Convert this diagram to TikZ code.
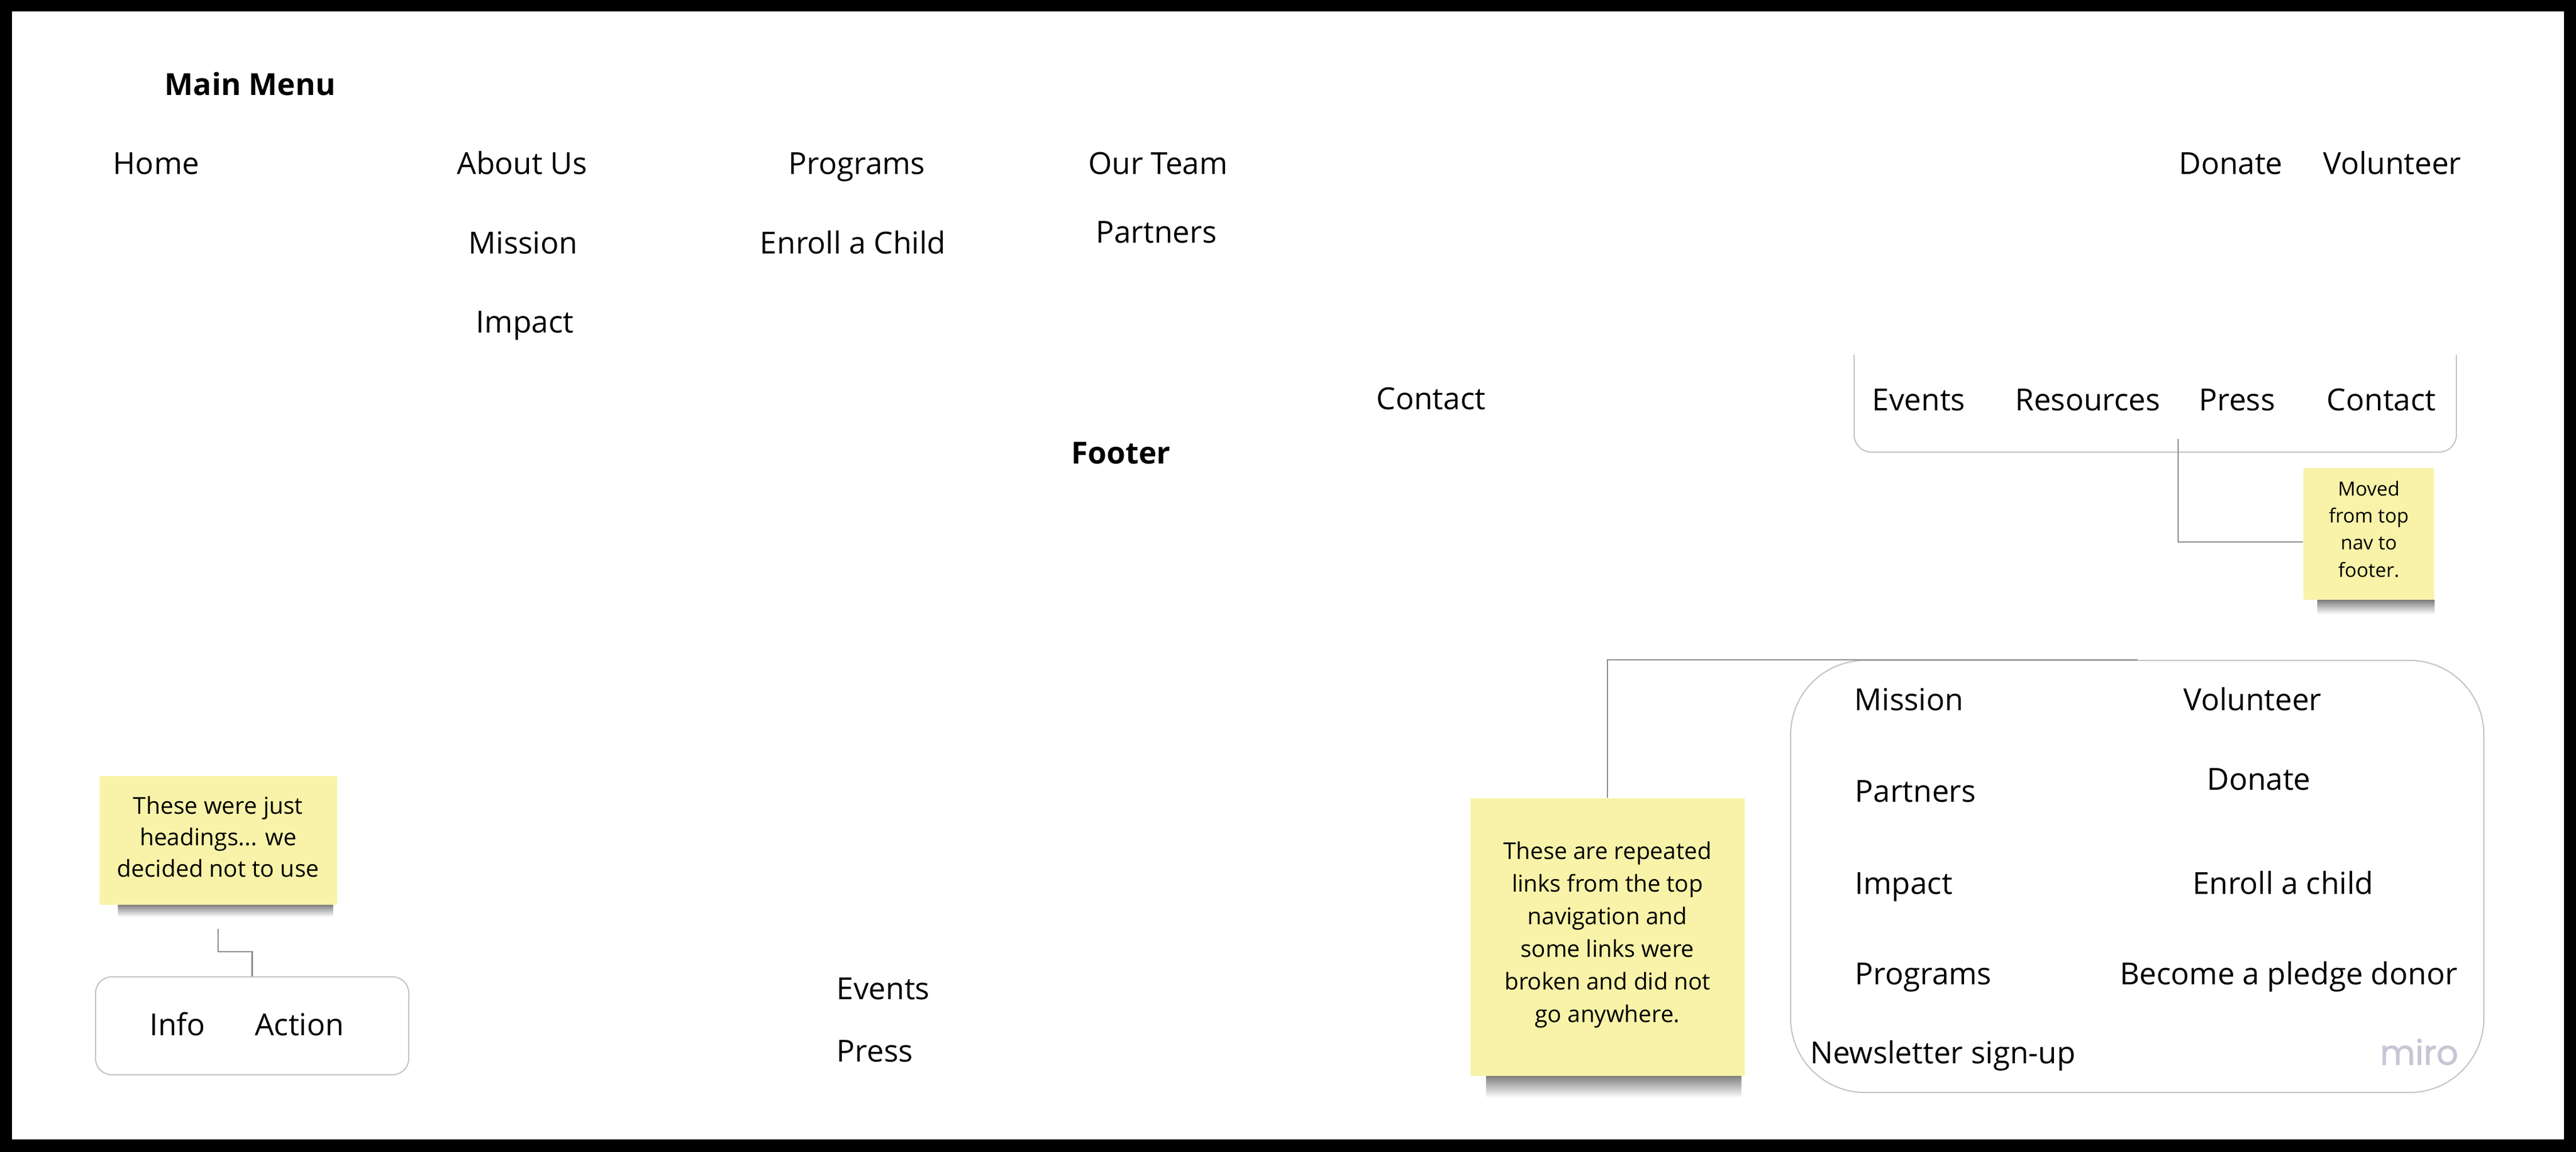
\documentclass[tikz,border=0pt]{standalone}
\usepackage{fontspec}
\setmainfont{Open Sans}
\newfontfamily\mirofont{Poppins}[FakeBold=1.2]
\definecolor{notecolor}{RGB}{248,243,168}
\definecolor{linkgray}{RGB}{140,140,140}
\definecolor{boxgray}{RGB}{196,196,196}
\definecolor{mirogray}{RGB}{198,198,214}
\begin{document}
\begin{tikzpicture}[
    item/.style={inner sep=0pt, text height=1.85ex, text depth=0pt, font=\fontsize{15.1}{18}\selectfont},
    heading/.style={item, font=\fontsize{15.1}{18}\selectfont\bfseries},
    sticky/.style={fill=notecolor, align=center, inner sep=0pt},
    noteshadow/.style={top color=black!50, bottom color=white},
    groupbox/.style={draw=boxgray, line width=0.6pt},
    link/.style={draw=linkgray, line width=0.6pt}]
  \useasboundingbox (0,0) rectangle (45,-20.13);
  \fill[black] (0,0) rectangle (45,-20.13);
  \fill[white] (0.21,-0.20) rectangle (44.79,-19.91);

  \node[heading] (mainmenu) at (4.37,-1.49) {Main Menu};
  \node[item] (home) at (2.73,-2.87) {Home};
  \node[item] (aboutus) at (9.12,-2.87) {About Us};
  \node[item] (programs) at (14.97,-2.87) {Programs};
  \node[item] (ourteam) at (20.23,-2.87) {Our Team};
  \node[item] (donate) at (38.97,-2.87) {Donate};
  \node[item] (volunteer) at (41.79,-2.87) {Volunteer};
  \node[item] (mission) at (9.14,-4.26) {Mission};
  \node[item] (enroll) at (14.90,-4.26) {Enroll a Child};
  \node[item] (partners) at (20.20,-4.07) {Partners};
  \node[item] (impact) at (9.17,-5.64) {Impact};
  \node[item] (contact) at (25.00,-6.98) {Contact};
  \node[heading] (footer) at (19.58,-7.93) {Footer};

  \draw[groupbox, rounded corners=0.3cm] (32.39,-6.20) -- (32.39,-7.90) -- (42.91,-7.90) -- (42.91,-6.20);
  \node[item] (events) at (33.52,-7.00) {Events};
  \node[item] (resources) at (36.47,-7.00) {Resources};
  \node[item] (press) at (39.08,-7.00) {Press};
  \node[item] (contactb) at (41.60,-7.00) {Contact};
  \coordinate (pressanchor) at (38.05,-7.67);

  \node[sticky, minimum width=2.28cm, minimum height=2.30cm, font=\fontsize{9.7}{13.5}\selectfont] (movednote) at (41.38,-9.33) {Moved\\from top\\nav to\\footer.\\[-0.30cm]};
  \shade[noteshadow] ([xshift=0.25cm]movednote.south west) rectangle ([yshift=-0.25cm]movednote.south east);
  \draw[link] (pressanchor) |- ([yshift=-0.14cm]movednote.west);

  \node[groupbox, minimum width=12.11cm, minimum height=7.55cm, rounded corners=1.3cm] (linkbox) at (37.335,-15.315) {};
  \node[item, anchor=west] (mission2) at (32.39,-12.24) {Mission};
  \node[item] (volunteer2) at (39.35,-12.24) {Volunteer};
  \node[item, anchor=west] (partners2) at (32.40,-13.84) {Partners};
  \node[item] (donate2) at (39.46,-13.63) {Donate};
  \node[item, anchor=west] (impact2) at (32.40,-15.45) {Impact};
  \node[item] (enroll2) at (39.88,-15.45) {Enroll a child};
  \node[item, anchor=west] (programs2) at (32.40,-17.03) {Programs};
  \node[item] (pledge) at (39.98,-17.03) {Become a pledge donor};
  \node[item] (newsletter) at (33.94,-18.41) {Newsletter sign-up};
  \node[inner sep=0pt, text=mirogray, font=\mirofont\fontsize{17}{20}\selectfont] (miro) at (42.26,-18.38) {miro};

  \node[sticky, minimum width=4.79cm, minimum height=4.85cm, font=\fontsize{11.5}{16.2}\selectfont] (repeatnote) at (28.08,-16.37) {These are repeated\\links from the top\\navigation and\\some links were\\broken and did not\\go anywhere.\\[-0.40cm]};
  \shade[noteshadow] ([xshift=0.28cm]repeatnote.south west) rectangle ([yshift=-0.38cm,xshift=-0.06cm]repeatnote.south east);
  \draw[link] (repeatnote.north) |- (linkbox.north);

  \node[item, anchor=west] (events2) at (14.61,-17.29) {Events};
  \node[item, anchor=west] (press2) at (14.61,-18.38) {Press};

  \node[sticky, minimum width=4.15cm, minimum height=2.25cm, font=\fontsize{11.6}{15.7}\selectfont] (headnote) at (3.81,-14.68) {These were just\\headings... we\\decided not to use\\[-0.43cm]};
  \shade[noteshadow] ([xshift=0.33cm]headnote.south west) rectangle ([yshift=-0.21cm,xshift=-0.07cm]headnote.south east);
  \node[groupbox, minimum width=5.47cm, minimum height=1.71cm, rounded corners=0.28cm] (infobox) at (4.405,-17.925) {};
  \node[item] (info) at (3.10,-17.92) {Info};
  \node[item] (action) at (5.23,-17.92) {Action};
  \draw[link] ([yshift=-0.42cm]headnote.south) -- ++(0,-0.40) -| (infobox.north);
\end{tikzpicture}
\end{document}
